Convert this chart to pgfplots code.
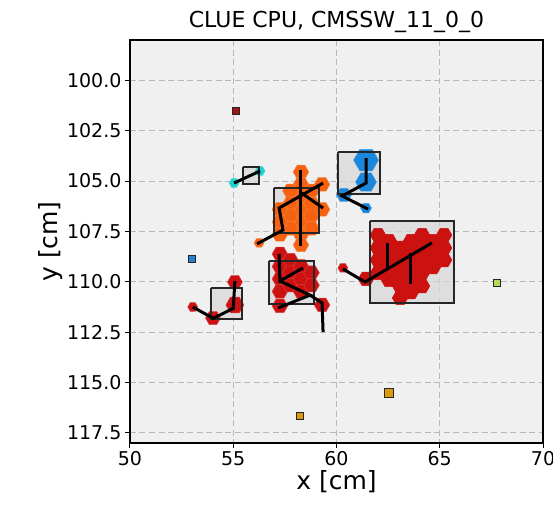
\documentclass[border=0pt]{standalone}
\usepackage{fontspec}
\setmainfont{DejaVu Sans}
\usepackage{pgfplots}
\pgfplotsset{compat=1.18}
\definecolor{cOrange}{HTML}{F5610E}
\definecolor{cRed}{HTML}{CC1111}
\definecolor{cBlue}{HTML}{1B87DC}
\definecolor{cCyan}{HTML}{1FD1D1}
\definecolor{sqDarkRed}{HTML}{A01414}
\definecolor{sqBlue}{HTML}{2A7FD4}
\definecolor{sqGreen}{HTML}{B5D95A}
\definecolor{sqGold}{HTML}{D99A0B}
\definecolor{axbg}{HTML}{F0F0F0}
\definecolor{boxfill}{HTML}{D8D8D8}
\pgfdeclareplotmark{hexagon}{%
  \pgfpathmoveto{\pgfqpointpolar{0}{\pgfplotmarksize}}%
  \pgfpathlineto{\pgfqpointpolar{60}{\pgfplotmarksize}}%
  \pgfpathlineto{\pgfqpointpolar{120}{\pgfplotmarksize}}%
  \pgfpathlineto{\pgfqpointpolar{180}{\pgfplotmarksize}}%
  \pgfpathlineto{\pgfqpointpolar{240}{\pgfplotmarksize}}%
  \pgfpathlineto{\pgfqpointpolar{300}{\pgfplotmarksize}}%
  \pgfpathclose
  \pgfusepathqfillstroke}
\pgfplotsset{
  hex/.style n args={2}{only marks, mark=hexagon, mark size=#2,
     mark options={fill=#1, draw=#1!80!white, line width=0.5pt}},
  hexs/.style n args={2}{only marks, mark=hexagon, mark size=#2,
     mark options={fill=#1, draw=#1, line width=0.5pt}},
  link/.style={black, line width=3pt, no marks},
  boxf/.style={fill=boxfill, fill opacity=0.75, draw=none, no marks},
  boxl/.style={draw=black!85, line width=1.6pt, no marks},
  sq/.style n args={2}{only marks, mark=square*, mark size=#2,
     mark options={fill=#1, draw=black!85, line width=1.3pt}},
}
\begin{document}
\begin{tikzpicture}
\path[use as bounding box] (-130pt,-63pt) rectangle (423pt,443pt);
\begin{axis}[
  at={(0,0)}, anchor=south west,
  scale only axis, width=413pt, height=403pt,
  xmin=50, xmax=70, ymin=98, ymax=118, y dir=reverse,
  clip mode=individual,
  axis background/.style={fill=axbg},
  grid=major,
  major grid style={draw=black!28, line width=0.9pt, dash pattern=on 6pt off 3.5pt},
  xtick={50,55,60,65,70},
  ytick={100,102.5,105,107.5,110,112.5,115,117.5},
  yticklabel style={/pgf/number format/.cd, fixed, fixed zerofill, precision=1},
  /pgf/number format/assume math mode=true,
  tick align=outside, tick pos=left, major tick length=5pt,
  tick style={black, line width=1pt},
  axis line style={line width=1.2pt},
  ticklabel style={font=\fontsize{19}{23}\selectfont},
  title={CLUE CPU, CMSSW\_11\_0\_0},
  title style={font=\fontsize{22}{26}\selectfont, yshift=-2pt},
  xlabel={x [cm]}, ylabel={y [cm]},
  label style={font=\fontsize{25}{30}\selectfont},
  xlabel style={yshift=2pt},
  ylabel style={yshift=-2pt},
]
% boxes (fill)
\addplot[boxf] coordinates {(55.47,104.30) (56.25,104.30) (56.25,105.15) (55.47,105.15) (55.47,104.30)};
\addplot[boxf] coordinates {(56.97,105.35) (59.15,105.35) (59.15,107.58) (56.97,107.58) (56.97,105.35)};
\addplot[boxf] coordinates {(60.07,103.56) (62.10,103.56) (62.10,105.64) (60.07,105.64) (60.07,103.56)};
\addplot[boxf] coordinates {(61.62,106.98) (65.69,106.98) (65.69,111.05) (61.62,111.05) (61.62,106.98)};
\addplot[boxf] coordinates {(56.73,108.97) (58.91,108.97) (58.91,111.10) (56.73,111.10) (56.73,108.97)};
\addplot[boxf] coordinates {(53.92,110.30) (55.42,110.30) (55.42,111.85) (53.92,111.85) (53.92,110.30)};
% cyan cluster
\addplot[hex={cCyan}{5}] coordinates {(55.04,105.10) (56.30,104.50)};
% blue cluster
\addplot[hex={cBlue}{12.5}] coordinates {(61.43,103.96)};
\addplot[hex={cBlue}{10.5}] coordinates {(61.43,105.05)};
\addplot[hex={cBlue}{7.5}] coordinates {(60.36,105.69)};
\addplot[hex={cBlue}{5.5}] coordinates {(61.43,106.34)};
% orange cluster
\addplot[hex={cOrange}{7.8}] coordinates {
 (58.28,104.55) (58.28,105.17) (58.28,105.79) (58.28,106.41) (58.28,107.03) (58.28,107.65) (58.28,108.17)
 (57.77,105.49) (57.77,106.11) (57.77,106.73) (57.77,107.35)
 (58.79,105.49) (58.79,106.11) (58.79,106.73) (58.79,107.35)
 (57.26,106.41) (57.26,107.03) (57.26,107.65)
 (59.30,105.17) (59.30,106.41)};
\addplot[hex={cOrange}{5}] coordinates {(56.25,108.07)};
% red middle cluster
\addplot[hex={cRed}{7.8}] coordinates {
 (57.26,108.62) (57.26,109.24) (57.26,109.86) (57.26,110.48) (57.26,111.20)
 (57.77,108.92) (57.77,109.55) (57.77,110.17)
 (58.28,109.24) (58.28,109.86) (58.28,110.48)
 (58.79,109.55) (58.79,110.17)
 (59.30,111.15)};
% red left cluster
\addplot[hex={cRed}{5}] coordinates {(53.04,111.25)};
\addplot[hex={cRed}{7.5}] coordinates {(54.02,111.80) (55.08,110.01)};
\addplot[hex={cRed}{9}] coordinates {(55.08,111.15)};
% red big cluster
\addplot[hexs={cRed}{7.8}] coordinates {
 (62.01,107.68) (62.01,108.32) (62.01,108.92) (62.01,109.56)
 (62.54,107.98) (62.54,108.62) (62.54,109.27) (62.54,109.91)
 (63.08,108.32) (63.08,108.92) (63.08,109.56) (63.08,110.21) (63.08,110.80)
 (63.61,107.98) (63.61,108.62) (63.61,109.27) (63.61,109.91) (63.61,110.51)
 (64.14,107.68) (64.14,108.32) (64.14,108.92) (64.14,109.56) (64.14,110.21)
 (64.67,107.98) (64.67,108.62) (64.67,109.27)
 (65.21,107.68) (65.21,108.32) (65.21,108.92)
 (61.43,109.86)};
\addplot[hex={cRed}{5}] coordinates {(60.31,109.31)};
% boxes (outline)
\addplot[boxl] coordinates {(55.47,104.30) (56.25,104.30) (56.25,105.15) (55.47,105.15) (55.47,104.30)};
\addplot[boxl] coordinates {(56.97,105.35) (59.15,105.35) (59.15,107.58) (56.97,107.58) (56.97,105.35)};
\addplot[boxl] coordinates {(60.07,103.56) (62.10,103.56) (62.10,105.64) (60.07,105.64) (60.07,103.56)};
\addplot[boxl] coordinates {(61.62,106.98) (65.69,106.98) (65.69,111.05) (61.62,111.05) (61.62,106.98)};
\addplot[boxl] coordinates {(56.73,108.97) (58.91,108.97) (58.91,111.10) (56.73,111.10) (56.73,108.97)};
\addplot[boxl] coordinates {(53.92,110.30) (55.42,110.30) (55.42,111.85) (53.92,111.85) (53.92,110.30)};
% links
\addplot[link] coordinates {(55.04,105.10) (56.30,104.50)};
\addplot[link] coordinates {(61.43,103.86) (61.43,105.10) (60.27,105.74) (61.53,106.39)};
\addplot[link] coordinates {(58.28,104.45) (58.28,108.22)};
\addplot[link] coordinates {(56.15,108.12) (57.41,107.43) (57.22,106.34) (59.35,105.10)};
\addplot[link] coordinates {(58.23,105.54) (59.35,106.34)};
\addplot[link] coordinates {(57.22,108.62) (57.26,109.96) (58.38,109.31)};
\addplot[link] coordinates {(57.26,109.96) (58.72,110.66) (57.17,111.30)};
\addplot[link] coordinates {(58.72,110.66) (59.30,111.05) (59.35,112.49)};
\addplot[link] coordinates {(53.04,111.25) (54.03,111.81) (55.00,111.32) (55.08,109.96)};
\addplot[link] coordinates {(60.31,109.36) (61.38,110.01) (64.62,108.07)};
\addplot[link] coordinates {(62.45,108.07) (62.45,109.36)};
\addplot[link] coordinates {(63.56,108.57) (63.56,110.10)};
% isolated points
\addplot[sq={sqDarkRed}{3.5}] coordinates {(55.13,101.52)};
\addplot[sq={sqBlue}{3.5}] coordinates {(53.00,108.87)};
\addplot[sq={sqGreen}{3.5}] coordinates {(67.77,110.06)};
\addplot[sq={sqGold}{4.5}] coordinates {(62.54,115.52)};
\addplot[sq={sqGold}{3.5}] coordinates {(58.23,116.66)};
\end{axis}
\end{tikzpicture}
\end{document}
